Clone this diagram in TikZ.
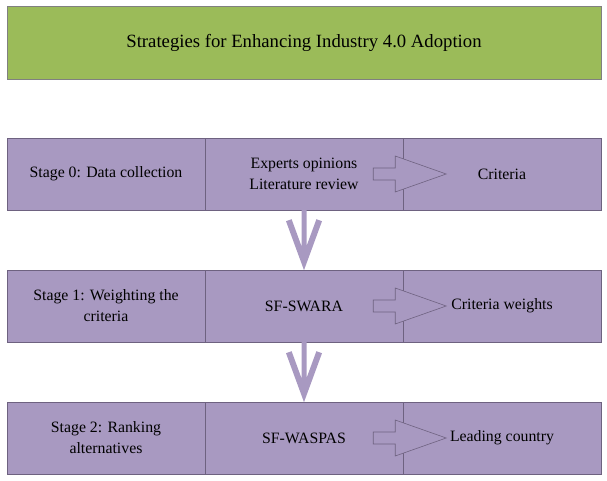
\documentclass[tikz,border=0pt]{standalone}
\usepackage{fontspec}
\setmainfont{Liberation Serif}
\definecolor{titlegreen}{RGB}{155,187,89}
\definecolor{titleline}{RGB}{128,128,128}
\definecolor{stagefill}{RGB}{168,153,193}
\definecolor{stageline}{RGB}{110,98,128}

\tikzset{
  cell/.style={draw=stageline,fill=stagefill,minimum width=198,minimum height=72,
    inner sep=0,align=center,font=\fontsize{15.8}{21}\selectfont},
  blockarrow/.style={draw=stageline,fill=stagefill,line width=0.6pt},
  downarrow/.style={fill=stagefill,draw=none}
}

\begin{document}
\begin{tikzpicture}[x=1pt,y=-1pt]
  \useasboundingbox (0,0) rectangle (607,481);
  \node[draw=titleline,fill=titlegreen,minimum width=594,minimum height=73,
    inner sep=0,font=\fontsize{18.7}{22}\selectfont] (title) at (304,42.5)
    {Strategies for Enhancing Industry 4.0 Adoption};

  % three stages, one row each
  \node[cell] (s0) at (106,174) {Stage 0: Data collection};
  \node[cell] (m0) at (304,174) {Experts opinions\\Literature review};
  \node[cell] (o0) at (502,174) {Criteria};
  \node[cell] (s1) at (106,306) {Stage 1: Weighting the\\criteria};
  \node[cell] (m1) at (304,306) {SF-SWARA};
  \node[cell] (o1) at (502,306) {Criteria weights};
  \node[cell] (s2) at (106,438) {Stage 2: Ranking\\alternatives};
  \node[cell] (m2) at (304,438) {SF-WASPAS};
  \node[cell] (o2) at (502,438) {Leading country};

  % block arrows from method to result
  \foreach \r in {0,1,2} {
    \begin{scope}[shift={(m\r.east)}]
      \draw[blockarrow] (-30,-6) -- (-8,-6) -- (-8,-18) -- (43,0) -- (-8,18)
        -- (-8,6) -- (-30,6) -- cycle;
    \end{scope}
  }

  % arrows down to the next stage
  \foreach \a/\b in {0/1,1/2} {
    \begin{scope}[shift={(m\a.south)}]
      \fill[downarrow] (-2.5,0) -- (-2.5,36) -- (-12.4,9) -- (-18,11) -- (0,60)
        -- (18,11) -- (12.4,9) -- (2.5,36) -- (2.5,0) -- cycle;
    \end{scope}
  }
\end{tikzpicture}
\end{document}
